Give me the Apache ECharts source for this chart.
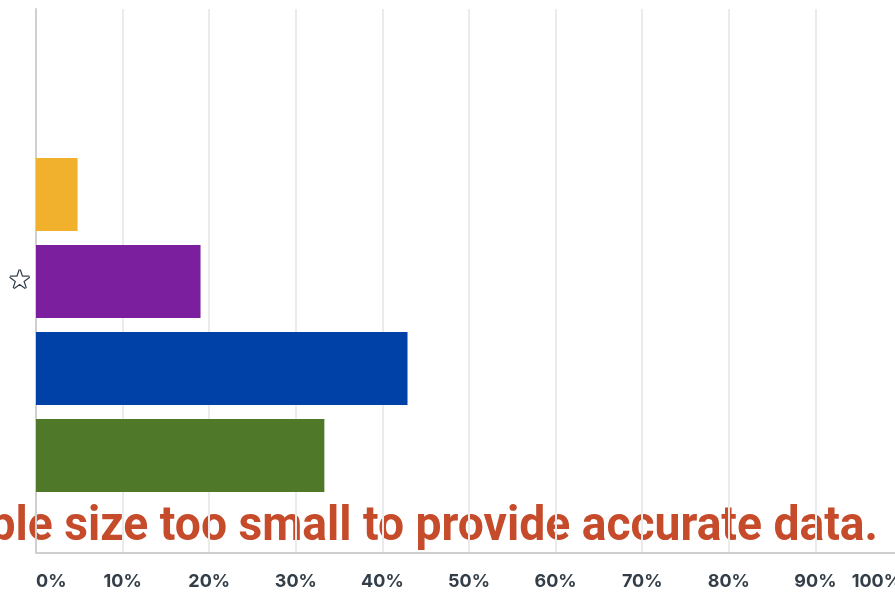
<!DOCTYPE html>
<html>
<head>
<meta charset="utf-8">
<script src="https://cdn.jsdelivr.net/npm/echarts@6/dist/echarts.min.js"></script>
<style>
  html, body { margin: 0; padding: 0; background: #fff; }
  #chart { width: 895px; height: 595px; }
</style>
</head>
<body>
<div id="chart"></div>
<script>
// categories top to bottom; first slot is left empty in the reference
var categories = ['(none)', 'A', 'B', 'C', 'D'];
var starred = 'B';
var values = [null, 4.8, 19.0, 42.9, 33.3];
var barColors = ['#ffffff', '#f2b12c', '#7b1f9e', '#0041a8', '#4f7929'];
var tickMax = 100;
var tickStep = 10;
var note = 'Sample size too small to provide accurate data.';

var chart = echarts.init(document.getElementById('chart'));

var option = {
    animation: false,
    backgroundColor: '#fff',
    grid: [
        // frame grid: gridlines, axis lines, percent labels
        { left: 36, right: -7, top: 9, bottom: 42, outerBoundsMode: 'none' },
        // bar grid, category slots of 87px
        { left: 36, right: -7, top: 64, bottom: 96, outerBoundsMode: 'none' }
    ],
    xAxis: [{
        gridIndex: 0,
        type: 'value',
        min: 0,
        max: tickMax,
        interval: tickStep,
        axisLine: { show: true, lineStyle: { color: '#cfcfcf', width: 2 } },
        axisTick: { show: false },
        splitLine: { show: true, lineStyle: { color: '#ebebeb', width: 2 } },
        axisLabel: {
            margin: 20,
            color: '#333e48',
            fontFamily: 'Inter',
            fontWeight: 700,
            fontSize: 18,
            alignMinLabel: 'left',
            alignMaxLabel: 'right',
            formatter: '{value}%'
        }
    }, {
        gridIndex: 1,
        type: 'value',
        min: 0,
        max: tickMax,
        show: false
    }],
    yAxis: [{
        gridIndex: 0,
        type: 'value',
        axisLine: { show: true, lineStyle: { color: '#cfcfcf', width: 2 } },
        axisTick: { show: false },
        axisLabel: { show: false },
        splitLine: { show: false }
    }, {
        gridIndex: 1,
        type: 'category',
        inverse: true,
        data: categories,
        axisLine: { show: false },
        axisTick: { show: false },
        axisLabel: {
            margin: 5,
            color: '#ffffff',
            textBorderColor: '#2f3a44',
            textBorderWidth: 2.5,
            fontFamily: 'DejaVu Sans',
            fontSize: 25,
            formatter: function (v) { return v === starred ? '\u2605' : ''; }
        }
    }],
    series: [{
        type: 'bar',
        xAxisIndex: 1,
        yAxisIndex: 1,
        barWidth: 73,
        data: values.map(function (v, i) {
            return { value: v, itemStyle: { color: barColors[i] } };
        })
    }],
    graphic: [{
        type: 'text',
        x: 878,
        y: 528,
        scaleX: 0.963,
        style: {
            x: 0,
            y: 0,
            text: note,
            align: 'right',
            verticalAlign: 'middle',
            fill: '#c54b2a',
            font: 'bold 48px Roboto, sans-serif'
        }
    }]
};

chart.setOption(option);
</script>
</body>
</html>
